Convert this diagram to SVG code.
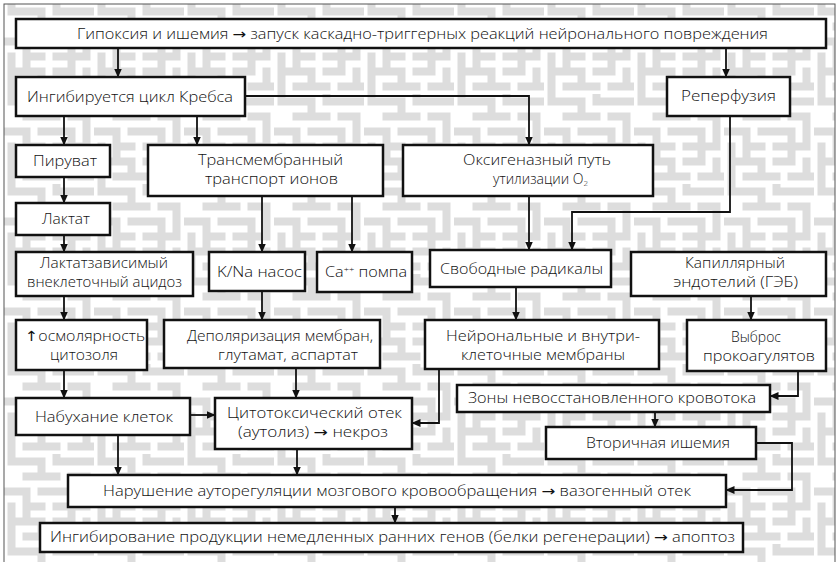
<svg xmlns="http://www.w3.org/2000/svg" width="838" height="562" viewBox="0 0 838 562">
<defs>
<pattern id="maze" x="4" y="4" width="90" height="90" patternUnits="userSpaceOnUse">
<rect width="90" height="90" fill="#ffffff"/>
<path d="M7.5 7.5H37.5M52.5 7.5H90M22.5 22.5H52.5M67.5 22.5H82.5M0 37.5H22.5M37.5 37.5H67.5M22.5 52.5H37.5M52.5 52.5H82.5M7.5 67.5H37.5M52.5 67.5H67.5M22.5 82.5H52.5M67.5 82.5H90M37.5 7.5V22.5M82.5 22.5V52.5M22.5 37.5V67.5M67.5 37.5V67.5M7.5 52.5V90M37.5 67.5V82.5M52.5 0V7.5M82.5 67.5V82.5M7.5 0V7.5" fill="none" stroke="#dddddd" stroke-width="8" stroke-linecap="square"/>
</pattern>
<marker id="ah" markerWidth="9" markerHeight="8" refX="8.5" refY="4" orient="auto" markerUnits="userSpaceOnUse">
<path d="M0 0L9 4L0 8z" fill="#111"/>
</marker>
<style>
.b{fill:#fff;stroke:#111;stroke-width:2.5}
.t{font-family:"Open Sans","Liberation Sans",Arial,sans-serif;font-weight:300;font-size:14px;fill:#111;text-anchor:middle}
.ar{font-family:"DejaVu Sans",sans-serif;font-weight:normal}
.c{fill:none;stroke:#111;stroke-width:1.8}
.a{marker-end:url(#ah)}
</style>
</defs>
<rect width="838" height="562" fill="#fff"/>
<rect x="4" y="4" width="831" height="570" fill="url(#maze)" stroke="#555" stroke-width="1"/>

<g id="connectors">
<path class="c a" d="M118 48V77"/>
<path class="c a" d="M726 48V77"/>
<path class="c a" d="M64 116V145"/>
<path class="c a" d="M197 116V145"/>
<path class="c a" d="M245 96H529V145"/>
<path class="c a" d="M64 177V203"/>
<path class="c a" d="M64 235V252"/>
<path class="c a" d="M262 196V252"/>
<path class="c a" d="M352 196V252"/>
<path class="c a" d="M529 196V250"/>
<path class="c a" d="M730 116V212H572V250"/>
<path class="c a" d="M64 296V320"/>
<path class="c a" d="M262 291V320"/>
<path class="c a" d="M516 287V320"/>
<path class="c a" d="M751 296V320"/>
<path class="c a" d="M64 370V398"/>
<path class="c a" d="M296 368V398"/>
<path class="c a" d="M190 415H215"/>
<path class="c a" d="M439 369V423H412"/>
<path class="c a" d="M798 371V396H770"/>
<path class="c a" d="M655 412V427"/>
<path class="c a" d="M756 443H792V490H726"/>
<path class="c a" d="M118 435V475"/>
<path class="c a" d="M297 449V475"/>
<path class="c a" d="M395 507V523"/>
</g>

<g id="n-top"><rect class="b" x="16" y="19" width="810" height="29"/>
<text class="t" x="422.5" y="38.5" textLength="691" lengthAdjust="spacingAndGlyphs">Гипоксия и ишемия <tspan class="ar">→</tspan> запуск каскадно-триггерных реакций нейронального повреждения</text></g>

<g id="n-krebs"><rect class="b" x="16" y="77" width="229" height="39"/>
<text class="t" x="130" y="102" textLength="206" lengthAdjust="spacingAndGlyphs">Ингибируется цикл Кребса</text></g>

<g id="n-reperf"><rect class="b" x="667" y="77" width="123" height="39"/>
<text class="t" x="728.5" y="101" textLength="95" lengthAdjust="spacingAndGlyphs">Реперфузия</text></g>

<g id="n-piruvat"><rect class="b" x="16" y="145" width="94" height="32"/>
<text class="t" x="65" y="166" textLength="64" lengthAdjust="spacingAndGlyphs">Пируват</text></g>

<g id="n-laktat"><rect class="b" x="16" y="203" width="94" height="32"/>
<text class="t" x="66" y="224" textLength="48" lengthAdjust="spacingAndGlyphs">Лактат</text></g>

<g id="n-transm"><rect class="b" x="148" y="145" width="235" height="51"/>
<text class="t" x="270.5" y="165" textLength="145" lengthAdjust="spacingAndGlyphs">Трансмембранный</text>
<text class="t" x="271.5" y="184" textLength="133" lengthAdjust="spacingAndGlyphs">транспорт ионов</text></g>

<g id="n-oxy"><rect class="b" x="403" y="145" width="250" height="51"/>
<text class="t" x="537" y="165" textLength="148" lengthAdjust="spacingAndGlyphs">Оксигеназный путь</text>
<text class="t" x="540.5" y="184" textLength="95" lengthAdjust="spacingAndGlyphs">утилизации O<tspan font-size="8" dy="2">2</tspan></text></g>

<g id="n-laktatzav"><rect class="b" x="16" y="252" width="177" height="44"/>
<text class="t" x="104" y="268" textLength="128" lengthAdjust="spacingAndGlyphs">Лактатзависимый</text>
<text class="t" x="104.5" y="287" textLength="155" lengthAdjust="spacingAndGlyphs">внеклеточный ацидоз</text></g>

<g id="n-kna"><rect class="b" x="209" y="252" width="96" height="39"/>
<text class="t" x="259.5" y="277" textLength="85" lengthAdjust="spacingAndGlyphs">K/Na насос</text></g>

<g id="n-ca"><rect class="b" x="317" y="252" width="95" height="40"/>
<text class="t" x="366" y="277" textLength="82" lengthAdjust="spacingAndGlyphs">Ca<tspan font-size="8" dy="-5">++</tspan><tspan dy="5"> помпа</tspan></text></g>

<g id="n-svob"><rect class="b" x="430" y="250" width="181" height="37"/>
<text class="t" x="521.5" y="274" textLength="163" lengthAdjust="spacingAndGlyphs">Свободные радикалы</text></g>

<g id="n-kapil"><rect class="b" x="631" y="252" width="195" height="44"/>
<text class="t" x="735" y="268" textLength="100" lengthAdjust="spacingAndGlyphs">Капиллярный</text>
<text class="t" x="735.5" y="287" textLength="125" lengthAdjust="spacingAndGlyphs">эндотелий (ГЭБ)</text></g>

<g id="n-osmol"><rect class="b" x="16" y="320" width="131" height="50"/>
<text class="t" x="85" y="341" textLength="120" lengthAdjust="spacingAndGlyphs"><tspan class="ar">↑</tspan>осмолярность</text>
<text class="t" x="84" y="360" textLength="68" lengthAdjust="spacingAndGlyphs">цитозоля</text></g>

<g id="n-depol"><rect class="b" x="164" y="320" width="216" height="48"/>
<text class="t" x="280" y="341" textLength="186" lengthAdjust="spacingAndGlyphs">Деполяризация мембран,</text>
<text class="t" x="288" y="360" textLength="140" lengthAdjust="spacingAndGlyphs">глутамат, аспартат</text></g>

<g id="n-neuron"><rect class="b" x="425" y="320" width="234" height="49"/>
<text class="t" x="543" y="341" textLength="194" lengthAdjust="spacingAndGlyphs">Нейрональные и внутри-</text>
<text class="t" x="543" y="360" textLength="164" lengthAdjust="spacingAndGlyphs">клеточные мембраны</text></g>

<g id="n-vybros"><rect class="b" x="687" y="320" width="139" height="51"/>
<text class="t" x="756" y="342" textLength="50" lengthAdjust="spacingAndGlyphs">Выброс</text>
<text class="t" x="759" y="361" textLength="112" lengthAdjust="spacingAndGlyphs">прокоагулятов</text></g>

<g id="n-zony"><rect class="b" x="457" y="385" width="313" height="27"/>
<text class="t" x="612" y="403" textLength="288" lengthAdjust="spacingAndGlyphs">Зоны невосстановленного кровотока</text></g>

<g id="n-nabukh"><rect class="b" x="16" y="398" width="174" height="37"/>
<text class="t" x="104" y="422" textLength="138" lengthAdjust="spacingAndGlyphs">Набухание клеток</text></g>

<g id="n-cyto"><rect class="b" x="215" y="398" width="197" height="51"/>
<text class="t" x="314.5" y="418" textLength="175" lengthAdjust="spacingAndGlyphs">Цитотоксический  отек</text>
<text class="t" x="313" y="437" textLength="150" lengthAdjust="spacingAndGlyphs">(аутолиз) <tspan class="ar">→</tspan> некроз</text></g>

<g id="n-vtorich"><rect class="b" x="546" y="427" width="210" height="32"/>
<text class="t" x="658" y="448" textLength="144" lengthAdjust="spacingAndGlyphs">Вторичная ишемия</text></g>

<g id="n-narush"><rect class="b" x="68" y="475" width="658" height="32"/>
<text class="t" x="397" y="496" textLength="588" lengthAdjust="spacingAndGlyphs">Нарушение ауторегуляции мозгового кровообращения <tspan class="ar">→</tspan> вазогенный отек</text></g>

<g id="n-ingib"><rect class="b" x="40" y="523" width="703" height="29"/>
<text class="t" x="392.5" y="542" textLength="685" lengthAdjust="spacingAndGlyphs">Ингибирование продукции немедленных ранних генов (белки регенерации) <tspan class="ar">→</tspan> апоптоз</text></g>
</svg>
